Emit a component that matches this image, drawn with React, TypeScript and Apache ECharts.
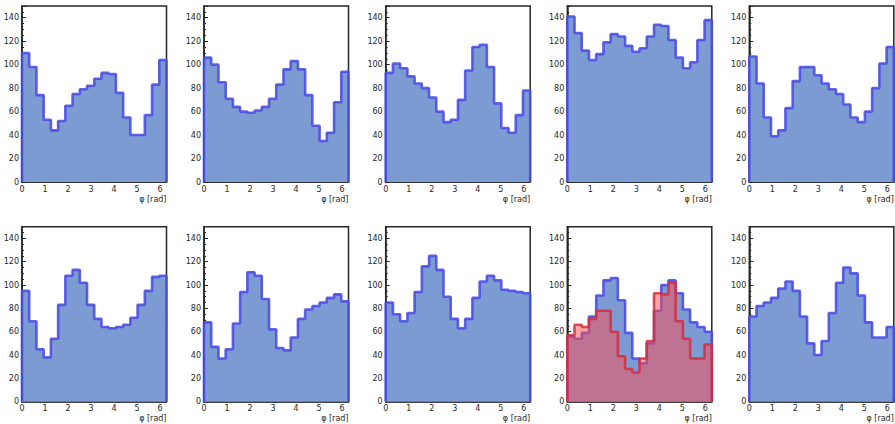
import React, { useEffect, useRef } from "react";
import * as echarts from "echarts";

// Histogram bin counts (20 bins over [0, 2π])
const panel1 = [110, 98, 74, 53, 44, 52, 65, 75, 79, 82, 88, 93, 92, 76, 55, 40, 40, 57, 83, 104];
const panel2 = [106, 100, 85, 71, 64, 60, 59, 61, 64, 71, 83, 96, 103, 96, 74, 48, 35, 42, 68, 94];
const panel3 = [93, 101, 97, 90, 84, 80, 72, 60, 51, 53, 70, 95, 115, 117, 98, 67, 46, 42, 57, 78];
const panel4 = [141, 127, 112, 104, 109, 119, 126, 124, 116, 111, 114, 124, 134, 133, 121, 106, 97, 102, 121, 138];
const panel5 = [107, 84, 55, 39, 44, 63, 86, 98, 98, 91, 84, 79, 75, 66, 55, 51, 60, 80, 101, 115];
const panel6 = [95, 69, 45, 38, 54, 83, 108, 113, 102, 83, 71, 64, 63, 64, 66, 72, 83, 95, 107, 108];
const panel7 = [68, 47, 37, 45, 67, 94, 111, 108, 88, 62, 46, 44, 55, 71, 79, 82, 85, 89, 92, 86];
const panel8 = [85, 75, 69, 76, 94, 116, 125, 113, 90, 71, 63, 71, 89, 103, 108, 104, 96, 95, 94, 93];
const panel9 = [56, 54, 59, 73, 91, 104, 106, 87, 59, 37, 33, 50, 78, 100, 104, 93, 79, 68, 64, 60];
const panel9Red = [57, 66, 64, 71, 78, 78, 60, 39, 28, 25, 37, 52, 93, 92, 102, 69, 54, 37, 37, 49];
const panel10 = [73, 82, 85, 89, 97, 103, 95, 73, 50, 40, 52, 76, 102, 115, 110, 91, 68, 55, 55, 64];

const bluePanels = [panel1, panel2, panel3, panel4, panel5, panel6, panel7, panel8, panel9, panel10];

const X_MIN = 0;
const X_MAX = 2 * Math.PI;
const Y_MIN = 0;
const Y_MAX = 150;
const Y_INTERVAL = 20;
const X_INTERVAL = 1;
const X_NAME = "φ [rad]";

function stepPoints(values: number[]): [number, number][] {
  const n = values.length;
  const w = (X_MAX - X_MIN) / n;
  const pts: [number, number][] = [[X_MIN, 0]];
  values.forEach((v, i) => pts.push([X_MIN + i * w, v]));
  pts.push([X_MAX, values[n - 1]]);
  pts.push([X_MAX, 0]);
  return pts;
}

const LEFTS = [22, 204, 385.7, 567.3, 749.3];
const TOPS = [6, 226.7];
const WIDTH = 144.5;
const HEIGHTS = [176, 175];

export default function App() {
  const ref = useRef<HTMLDivElement>(null);
  useEffect(() => {
    if (!ref.current) return;
    const chart = echarts.init(ref.current, undefined, { renderer: "svg" });
    const grid: any[] = [];
    const xAxis: any[] = [];
    const yAxis: any[] = [];
    const series: any[] = [];
    const axisColor = "#262626";
    const labelStyle = { color: "#262626", fontSize: 8, fontFamily: "DejaVu Sans" };
    bluePanels.forEach((vals, i) => {
      const row = Math.floor(i / 5);
      const col = i % 5;
      grid.push({
        left: LEFTS[col],
        top: TOPS[row],
        width: WIDTH,
        height: HEIGHTS[row],
        show: true,
        borderColor: axisColor,
        borderWidth: 1.5,
        backgroundColor: "transparent",
      });
      xAxis.push({
        type: "value",
        gridIndex: i,
        min: X_MIN,
        max: X_MAX,
        interval: X_INTERVAL,
        name: X_NAME,
        nameLocation: "end",
        nameGap: 0,
        nameTextStyle: { ...labelStyle, align: "right", verticalAlign: "top", padding: [13, 0, 0, 0] },
        axisLine: { show: true, onZero: false, lineStyle: { color: axisColor, width: 1.5 } },
        axisTick: { show: true, inside: true, length: 4, lineStyle: { color: axisColor, width: 1 } },
        minorTick: { show: true, splitNumber: 5, length: 2, lineStyle: { color: axisColor, width: 1 } },
        axisLabel: { ...labelStyle, margin: 3, showMaxLabel: false },
        splitLine: { show: false },
        minorSplitLine: { show: false },
      });
      yAxis.push({
        type: "value",
        gridIndex: i,
        min: Y_MIN,
        max: Y_MAX,
        interval: Y_INTERVAL,
        axisLine: { show: true, onZero: false, lineStyle: { color: axisColor, width: 1.5 } },
        axisTick: { show: true, inside: true, length: 4, lineStyle: { color: axisColor, width: 1 } },
        minorTick: { show: true, splitNumber: 4, length: 2, lineStyle: { color: axisColor, width: 1 } },
        axisLabel: { ...labelStyle, margin: 3, showMaxLabel: false },
        splitLine: { show: false },
        minorSplitLine: { show: false },
      });
      series.push({
        type: "line",
        xAxisIndex: i,
        yAxisIndex: i,
        step: "end",
        showSymbol: false,
        symbol: "none",
        clip: true,
        data: stepPoints(vals),
        lineStyle: { color: "rgba(70,70,228,0.85)", width: 2.6 },
        areaStyle: { color: "#7b9bd2", opacity: 1 },
        z: 2,
      });
      if (i === 8) {
        series.push({
          type: "line",
          xAxisIndex: i,
          yAxisIndex: i,
          step: "end",
          showSymbol: false,
          symbol: "none",
          clip: true,
          data: stepPoints(panel9Red),
          lineStyle: { color: "rgba(215,45,60,0.85)", width: 2.6 },
          areaStyle: { color: "rgba(255,75,80,0.5)", opacity: 1 },
          z: 3,
        });
      }
    });
    chart.setOption({
      animation: false,
      backgroundColor: "#ffffff",
      grid,
      xAxis,
      yAxis,
      series,
    });
    return () => chart.dispose();
  }, []);
  return (
    <div
      ref={ref}
      style={{ position: "fixed", left: 0, top: 0, width: 895, height: 424 }}
    />
  );
}
